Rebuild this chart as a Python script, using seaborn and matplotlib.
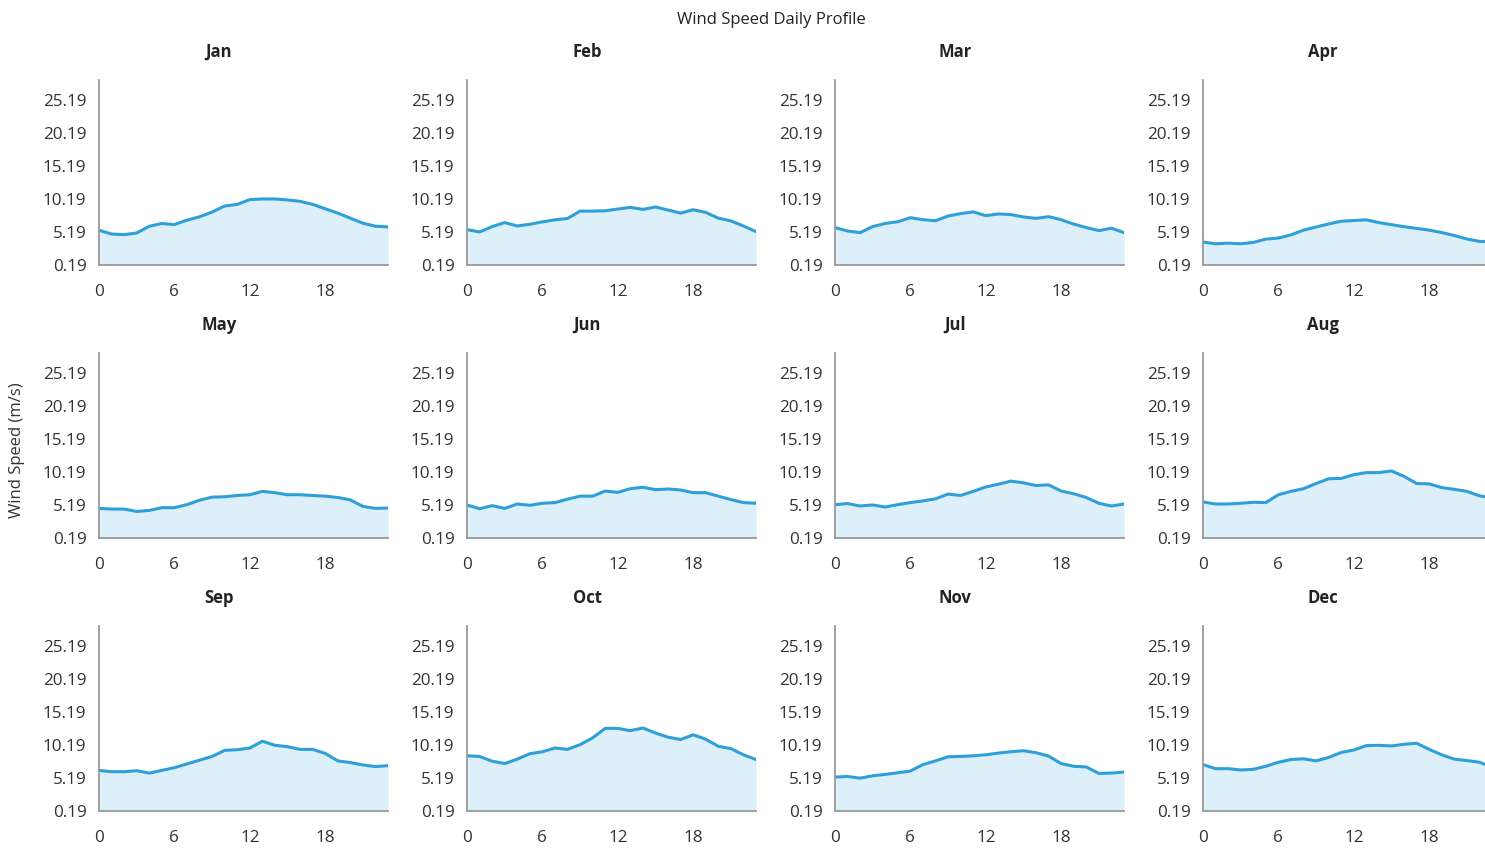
import matplotlib
matplotlib.use("Agg")
import matplotlib.pyplot as plt
import seaborn as sns
import pandas as pd

# Hourly mean wind speed (m/s) for each month
hours = list(range(24))
months = ["Jan", "Feb", "Mar", "Apr", "May", "Jun",
          "Jul", "Aug", "Sep", "Oct", "Nov", "Dec"]

jan = [5.45, 4.88, 4.78, 5.04, 6.06, 6.47, 6.31, 6.98, 7.49, 8.20, 9.12, 9.37,
       10.09, 10.19, 10.19, 10.04, 9.83, 9.37, 8.71, 8.05, 7.28, 6.52, 6.06, 5.96]
feb = [5.55, 5.19, 6.00, 6.62, 6.10, 6.36, 6.72, 7.03, 7.23, 8.35, 8.35, 8.40,
       8.66, 8.91, 8.61, 8.97, 8.51, 8.05, 8.56, 8.15, 7.28, 6.87, 6.10, 5.24]
mar = [5.86, 5.34, 5.09, 6.01, 6.48, 6.74, 7.35, 7.05, 6.89, 7.61, 7.97, 8.23,
       7.66, 7.92, 7.82, 7.46, 7.25, 7.51, 7.05, 6.38, 5.86, 5.40, 5.76, 5.09]
apr = [3.66, 3.40, 3.50, 3.40, 3.61, 4.11, 4.27, 4.75, 5.47, 5.94, 6.41, 6.82,
       6.92, 7.03, 6.61, 6.30, 5.99, 5.73, 5.47, 5.11, 4.65, 4.13, 3.77, 3.71]
may = [4.67, 4.57, 4.57, 4.21, 4.37, 4.78, 4.78, 5.24, 5.91, 6.38, 6.43, 6.63,
       6.74, 7.25, 7.05, 6.74, 6.74, 6.63, 6.53, 6.32, 5.96, 4.98, 4.67, 4.73]
jun = [5.19, 4.62, 5.09, 4.67, 5.34, 5.14, 5.45, 5.55, 6.07, 6.53, 6.53, 7.30,
       7.10, 7.66, 7.87, 7.51, 7.61, 7.46, 7.05, 7.05, 6.53, 6.01, 5.55, 5.45]
jul = [5.24, 5.40, 5.04, 5.19, 4.88, 5.24, 5.55, 5.81, 6.12, 6.84, 6.63, 7.25,
       7.92, 8.33, 8.80, 8.54, 8.13, 8.23, 7.30, 6.89, 6.32, 5.45, 5.04, 5.34]
aug = [5.65, 5.34, 5.34, 5.45, 5.60, 5.55, 6.74, 7.25, 7.66, 8.44, 9.16, 9.21,
       9.78, 10.09, 10.09, 10.34, 9.52, 8.44, 8.39, 7.82, 7.56, 7.25, 6.58, 6.27]
sep = [6.34, 6.14, 6.14, 6.29, 5.93, 6.34, 6.75, 7.32, 7.88, 8.45, 9.37, 9.47,
       9.73, 10.75, 10.14, 9.93, 9.52, 9.52, 8.91, 7.78, 7.52, 7.16, 6.91, 7.06]
oct_ = [8.55, 8.45, 7.73, 7.37, 8.04, 8.86, 9.16, 9.73, 9.52, 10.24, 11.27, 12.70,
        12.70, 12.35, 12.76, 11.99, 11.37, 11.01, 11.73, 11.06, 9.99, 9.63, 8.70, 7.98]
nov = [5.32, 5.42, 5.16, 5.52, 5.73, 5.98, 6.24, 7.22, 7.78, 8.40, 8.45, 8.55,
       8.70, 8.96, 9.16, 9.32, 9.01, 8.50, 7.37, 6.96, 6.86, 5.88, 5.93, 6.09]
dec = [7.22, 6.60, 6.60, 6.40, 6.50, 6.96, 7.57, 7.99, 8.09, 7.78, 8.30, 9.06,
       9.42, 10.09, 10.14, 10.04, 10.29, 10.45, 9.52, 8.70, 8.04, 7.83, 7.57, 6.86]

series = [jan, feb, mar, apr, may, jun, jul, aug, sep, oct_, nov, dec]

y_ticks = [0.19, 5.19, 10.19, 15.19, 20.19, 25.19]
y_tick_labels = ["0.19", "5.19", "10.19", "15.19", "20.19", "25.19"]
x_ticks = [0, 6, 12, 18]
x_tick_labels = ["0", "6", "12", "18"]

title = "Wind Speed Daily Profile"
y_label = "Wind Speed (m/s)"

# Styling
W, H = 1485, 848
DPI = 100
LINE = "#2E9FD9"
FILL = "#DDEFF8"
AXIS = "#9A9A9A"
TEXT = "#333333"

sns.set_theme(style="white")
plt.rcParams["font.family"] = ["Open Sans", "DejaVu Sans"]

fig = plt.figure(figsize=(W / DPI, H / DPI), dpi=DPI)
fig.patch.set_facecolor("white")


def rect(left, top, right, bottom):
    return [left / W, 1 - bottom / H, (right - left) / W, (bottom - top) / H]


for i, (name, vals) in enumerate(zip(months, series)):
    r, c = divmod(i, 4)
    left = 99 + 368 * c
    top = 80 + 273 * r
    ax = fig.add_axes(rect(left, top, left + 289, top + 185))
    df = pd.DataFrame({"hour": hours, "speed": vals})
    ax.fill_between(df["hour"], y_ticks[0], df["speed"], color=FILL, linewidth=0, zorder=1)
    sns.lineplot(data=df, x="hour", y="speed", ax=ax, color=LINE, linewidth=2.2, zorder=2)

    ax.set_xlim(0, 23)
    ax.set_ylim(0.19, 28.2)
    ax.set_xticks(x_ticks)
    ax.set_xticklabels(x_tick_labels)
    ax.set_yticks(y_ticks)
    ax.set_yticklabels(y_tick_labels)
    ax.set_xlabel("")
    ax.set_ylabel("")
    ax.set_facecolor("white")
    for side in ("top", "right"):
        ax.spines[side].set_visible(False)
    for side in ("left", "bottom"):
        ax.spines[side].set_color(AXIS)
        ax.spines[side].set_linewidth(1.3)
    ax.tick_params(axis="both", which="major", length=5, width=1.1, color=AXIS,
                   labelcolor=TEXT, labelsize=12.3, direction="out")
    ax.tick_params(axis="x", pad=8.5)
    ax.tick_params(axis="y", pad=4)
    ax.grid(False)

    fig.text((219 + 368 * c) / W, 1 - (52 + 273 * r) / H, name,
             ha="center", va="center", fontsize=12, fontweight="bold", color="#222222")

fig.text(771 / W, 1 - 20 / H, title, ha="center", va="center",
         fontsize=12, color="#222222")
fig.text(17 / W, 1 - 450 / H, y_label, ha="center", va="center",
         rotation=90, fontsize=12, color=TEXT)

fig.savefig("out.png", dpi=DPI, facecolor="white")
